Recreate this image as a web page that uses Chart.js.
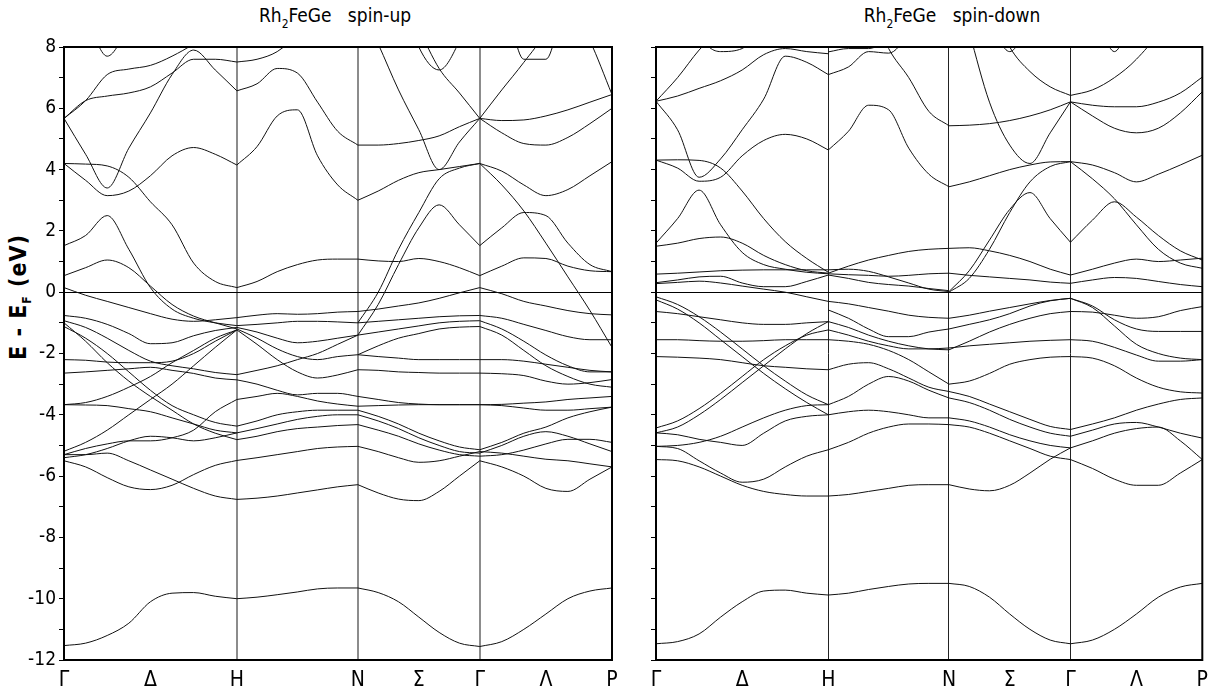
<!DOCTYPE html>
<html>
<head>
<meta charset="utf-8">
<script src="https://cdn.jsdelivr.net/npm/chart.js@4.4.0/dist/chart.umd.min.js"></script>
<style>
body { margin:0; width:1216px; height:697px; background:#fff; position:relative; overflow:hidden;
       font-family:'Liberation Sans Narrow','DejaVu Sans Condensed','Liberation Sans',Arial,sans-serif; }
canvas { position:absolute; top:0; }
#cUp { left:0; }
#cDn { left:620px; }
.ttl { position:absolute; top:4px; font-size:19px; white-space:pre; transform:translateX(-50%); color:#000; }
.ttl sub { font-size:12px; vertical-align:-6px; }
#ylab { position:absolute; left:19px; top:297px; transform:translate(-50%,-50%) rotate(-90deg);
        font-size:23px; font-weight:bold; letter-spacing:1px; white-space:pre; }
#ylab sub { font-size:12px; vertical-align:-5px; }
</style>
</head>
<body>
<div class="ttl" style="left:335px">Rh<sub>2</sub>FeGe   spin-up</div>
<div class="ttl" style="left:952px">Rh<sub>2</sub>FeGe   spin-down</div>
<div id="ylab">E - E<sub>F</sub> (eV)</div>
<canvas id="cUp" width="630" height="697"></canvas>
<canvas id="cDn" width="596" height="697"></canvas>
<script>
// k-path: Γ H N Γ P
const kPoints = [0, 1, 1.70, 2.405, 3.17];
const kTicks = [0, 0.5, 1, 1.70, 2.0525, 2.405, 2.7875, 3.17];
const kLabels = ['Γ', 'Δ', 'H', 'N', 'Σ', 'Γ', 'Λ', 'P'];
const symPoints = [1, 1.70, 2.405];

// ---- spin-up bands (eV), one row per line, evenly spaced along each segment
const upGH = [
    [5.67, 6.25, 7.1, 7.28, 7.4, 7.7, 8.1, 8.6, 9.2],
    [5.67, 6.25, 6.4, 6.5, 6.7, 7.15, 7.6, 7.6, 7.51],
    [5.67, 4.5, 3.4, 4.7, 5.85, 7.1, 7.9, 7.25, 6.57],
    [10, 9, 7.7, 8.7, 10, 10, 10, 10, 10],
    [4.2, 4.18, 4.12, 3.75, 2.95, 2.2, 0.95, 0.35, 0.15],
    [4.2, 3.65, 3.15, 3.3, 3.8, 4.45, 4.72, 4.5, 4.15],
    [1.52, 1.85, 2.5, 1.4, 0.15, -0.55, -0.85, -1.0, -1.09],
    [0.54, 0.8, 1.05, 0.8, 0.2, -0.4, -0.78, -1.0, -1.2],
    [0.15, -0.1, -0.3, -0.5, -0.7, -0.88, -0.95, -0.9, -0.83],
    [-0.76, -0.85, -1.05, -1.35, -1.68, -1.65, -1.42, -1.25, -1.15],
    [-0.93, -1.15, -1.5, -1.9, -2.25, -2.4, -2.5, -2.62, -2.69],
    [-1.12, -1.5, -2.0, -2.6, -3.2, -3.7, -4.0, -4.25, -4.37],
    [-1.0, -1.6, -2.3, -2.9, -3.4, -3.85, -4.3, -4.6, -4.81],
    [-2.2, -2.22, -2.28, -2.3, -2.3, -2.25, -2.0, -1.6, -1.23],
    [-2.64, -2.6, -2.55, -2.5, -2.45, -2.55, -2.65, -2.8, -2.86],
    [-3.67, -3.68, -3.7, -3.8, -3.9, -4.1, -4.3, -4.5, -4.59],
    [-3.67, -3.6, -3.4, -3.1, -2.75, -2.3, -1.9, -1.5, -1.23],
    [-5.19, -4.9, -4.5, -4.0, -3.5, -3.0, -2.4, -1.8, -1.23],
    [-5.3, -5.1, -4.95, -4.85, -4.85, -4.75, -4.5, -3.9, -3.5],
    [-5.4, -5.3, -5.1, -4.85, -4.7, -4.75, -4.85, -4.75, -4.59],
    [-5.5, -5.7, -6.05, -6.35, -6.44, -6.3, -5.95, -5.65, -5.49],
    [-5.3, -5.3, -5.25, -5.5, -5.8, -6.1, -6.4, -6.65, -6.76],
    [-11.53, -11.45, -11.2, -10.8, -10.1, -9.82, -9.8, -9.92, -10.0]
];
const upHN = [
    [7.51, 7.6, 7.85, 8.4, 9, 9.5, 10],
    [6.57, 6.8, 7.3, 7.15, 6.2, 5.25, 4.8],
    [4.15, 4.75, 5.75, 5.95, 4.45, 3.5, 3.0],
    [0.15, 0.35, 0.67, 0.9, 1.05, 1.08, 1.08],
    [-0.83, -0.75, -0.7, -0.72, -0.7, -0.65, -0.63],
    [-1.09, -1.05, -1.0, -0.95, -0.95, -0.97, -1.0],
    [-1.15, -1.3, -1.5, -1.65, -1.6, -1.5, -1.4],
    [-1.2, -1.5, -1.85, -2.1, -2.2, -2.1, -2.04],
    [-1.23, -1.7, -2.2, -2.6, -2.8, -2.7, -2.53],
    [-2.69, -2.55, -2.4, -2.2, -2.0, -1.7, -1.4],
    [-2.86, -3.0, -3.2, -3.35, -3.3, -3.3, -3.4],
    [-3.5, -3.4, -3.3, -3.4, -3.55, -3.65, -3.72],
    [-4.37, -4.2, -4.0, -3.9, -3.85, -3.85, -3.85],
    [-4.59, -4.45, -4.3, -4.15, -4.05, -4.0, -4.0],
    [-4.81, -4.7, -4.55, -4.45, -4.4, -4.35, -4.32],
    [-5.49, -5.4, -5.3, -5.2, -5.1, -5.05, -5.03],
    [-6.76, -6.72, -6.65, -6.55, -6.45, -6.35, -6.28],
    [-10.0, -9.95, -9.87, -9.78, -9.68, -9.65, -9.65]
];
const upNG = [
    [9.5, 8.1, 6.6, 5.3, 4.0, 4.9, 5.67],
    [4.8, 4.8, 4.85, 4.95, 5.1, 5.4, 5.67],
    [11, 11, 10, 8.6, 7.3, 6.5, 5.67],
    [11, 11, 10, 8.0, 7.25, 8.2, 10],
    [3.0, 3.3, 3.65, 3.9, 4.0, 4.1, 4.2],
    [-1.4, -0.4, 0.9, 2.1, 2.85, 2.2, 1.52],
    [-1.0, 0.0, 1.4, 2.6, 3.7, 4.05, 4.2],
    [1.08, 1.02, 1.0, 1.1, 1.0, 0.8, 0.54],
    [-0.63, -0.55, -0.45, -0.35, -0.2, -0.02, 0.15],
    [-1.0, -0.95, -0.9, -0.85, -0.8, -0.77, -0.76],
    [-1.4, -1.3, -1.2, -1.1, -1.0, -0.95, -0.93],
    [-2.04, -1.75, -1.5, -1.35, -1.2, -1.14, -1.12],
    [-2.04, -2.1, -2.15, -2.2, -2.2, -2.2, -2.2],
    [-2.53, -2.55, -2.6, -2.62, -2.64, -2.64, -2.64],
    [-3.4, -3.5, -3.6, -3.65, -3.67, -3.67, -3.67],
    [-3.72, -3.7, -3.68, -3.67, -3.67, -3.67, -3.67],
    [-3.85, -4.05, -4.3, -4.6, -4.85, -5.05, -5.14],
    [-4.0, -4.2, -4.45, -4.75, -5.0, -5.2, -5.25],
    [-4.32, -4.5, -4.7, -4.95, -5.15, -5.3, -5.35],
    [-5.03, -5.2, -5.4, -5.55, -5.5, -5.35, -5.2],
    [-6.28, -6.55, -6.75, -6.8, -6.5, -6.0, -5.5],
    [-9.65, -9.8, -10.1, -10.6, -11.1, -11.45, -11.56]
];
const upGP = [
    [5.67, 5.6, 5.62, 5.75, 5.95, 6.2, 6.45],
    [11, 11, 11, 10, 9.5, 8.2, 6.45],
    [5.67, 5.2, 4.85, 4.8, 5.05, 5.5, 6.0],
    [11, 10, 7.6, 7.6, 10, 11, 11],
    [5.67, 6.6, 7.5, 8.5, 10, 11, 11],
    [4.2, 3.95, 3.5, 3.15, 3.35, 3.8, 4.26],
    [1.52, 2.1, 2.6, 2.5, 1.6, 0.9, 0.67],
    [4.2, 3.5, 2.65, 1.6, 0.5, -0.6, -1.8],
    [0.54, 0.85, 1.12, 1.1, 0.85, 0.7, 0.67],
    [0.15, -0.05, -0.3, -0.45, -0.6, -0.7, -0.74],
    [-0.76, -0.85, -1.05, -1.25, -1.45, -1.55, -1.55],
    [-0.93, -1.2, -1.6, -2.05, -2.4, -2.6, -2.6],
    [-1.12, -1.4, -1.9, -2.4, -2.75, -3.0, -3.1],
    [-2.2, -2.2, -2.25, -2.35, -2.45, -2.55, -2.6],
    [-2.64, -2.66, -2.72, -2.9, -3.0, -2.95, -2.85],
    [-3.67, -3.66, -3.62, -3.58, -3.5, -3.45, -3.4],
    [-3.67, -3.7, -3.78, -3.85, -3.85, -3.8, -3.75],
    [-5.14, -4.9, -4.6, -4.4, -4.1, -3.9, -3.75],
    [-5.25, -5.0, -4.7, -4.55, -4.7, -4.95, -5.2],
    [-5.35, -5.3, -5.15, -4.95, -4.8, -4.8, -4.9],
    [-5.5, -5.7, -6.0, -6.4, -6.5, -6.1, -5.7],
    [-5.2, -5.25, -5.35, -5.45, -5.5, -5.6, -5.7],
    [-11.56, -11.4, -11.0, -10.5, -10.0, -9.75, -9.65]
];

// ---- spin-down bands
const dnGH = [
    [6.23, 6.4, 6.65, 6.9, 7.25, 7.75, 7.95, 7.85, 7.78],
    [6.23, 7.0, 7.9, 8.6, 9.5, 10, 10, 10, 10],
    [11, 11, 8.5, 7.85, 7.95, 9, 11, 11, 11],
    [6.23, 5.3, 3.75, 4.35, 5.3, 6.3, 7.7, 7.5, 7.1],
    [4.31, 4.32, 4.3, 4.05, 3.3, 2.4, 1.65, 1.1, 0.65],
    [4.31, 4.05, 3.62, 3.75, 4.45, 4.95, 5.15, 5.0, 4.64],
    [1.6, 2.4, 3.33, 2.2, 1.3, 0.9, 0.75, 0.65, 0.6],
    [1.5, 1.6, 1.75, 1.8, 1.6, 1.2, 0.9, 0.7, 0.62],
    [0.59, 0.62, 0.66, 0.7, 0.72, 0.73, 0.73, 0.73, 0.73],
    [0.31, 0.4, 0.5, 0.52, 0.3, 0.18, 0.18, 0.35, 0.56],
    [0.28, 0.32, 0.36, 0.3, 0.2, 0.1, 0.0, -0.15, -0.3],
    [-0.15, -0.4, -0.8, -1.3, -1.85, -2.4, -2.9, -3.35, -3.67],
    [-0.25, -0.55, -1.0, -1.55, -2.1, -2.65, -3.15, -3.6, -4.0],
    [-0.63, -0.7, -0.8, -0.9, -1.0, -1.05, -1.05, -1.0, -0.96],
    [-1.55, -1.55, -1.58, -1.6, -1.6, -1.58, -1.55, -1.55, -1.55],
    [-2.1, -2.12, -2.15, -2.2, -2.3, -2.4, -2.45, -2.5, -2.53],
    [-4.43, -4.2, -3.8, -3.3, -2.75, -2.2, -1.75, -1.4, -1.23],
    [-4.59, -4.4, -4.0, -3.5, -2.95, -2.4, -1.85, -1.35, -0.96],
    [-5.03, -5.0, -4.9, -4.7, -4.4, -4.1, -3.85, -3.7, -3.67],
    [-5.03, -5.1, -5.5, -5.9, -6.2, -6.1, -5.7, -5.35, -5.14],
    [-5.46, -5.5, -5.7, -6.0, -6.3, -6.5, -6.6, -6.65, -6.65],
    [-4.59, -4.65, -4.8, -4.9, -5.0, -4.6, -4.2, -4.05, -4.0],
    [-11.47, -11.4, -11.15, -10.6, -10.1, -9.75, -9.72, -9.82, -9.88]
];
const dnHN = [
    [7.84, 7.95, 7.95, 8.3, 9, 10, 10],
    [7.1, 7.35, 7.85, 7.8, 8.5, 10, 10],
    [10, 10, 9.5, 7.95, 7.0, 5.9, 5.43],
    [4.64, 5.25, 6.1, 5.95, 4.7, 3.85, 3.44],
    [0.62, 0.85, 1.05, 1.2, 1.33, 1.4, 1.43],
    [0.73, 0.75, 0.68, 0.5, 0.3, 0.1, 0.02],
    [0.6, 0.57, 0.55, 0.52, 0.55, 0.6, 0.62],
    [0.56, 0.45, 0.32, 0.25, 0.2, 0.12, 0.05],
    [-0.3, -0.38, -0.5, -0.62, -0.75, -0.82, -0.85],
    [-0.58, -0.85, -1.2, -1.45, -1.45, -1.3, -1.2],
    [-0.96, -1.15, -1.4, -1.6, -1.75, -1.85, -1.88],
    [-1.23, -1.4, -1.6, -1.75, -1.85, -1.85, -1.82],
    [-1.55, -1.6, -1.7, -1.9, -2.2, -2.6, -3.0],
    [-2.53, -2.35, -2.3, -2.5, -2.8, -3.1, -3.24],
    [-3.67, -3.4, -3.0, -2.75, -2.9, -3.2, -3.45],
    [-4.0, -3.9, -3.85, -3.9, -4.0, -4.1, -4.1],
    [-5.14, -4.9, -4.6, -4.4, -4.3, -4.3, -4.32],
    [-6.65, -6.6, -6.5, -6.4, -6.3, -6.28, -6.28],
    [-9.88, -9.82, -9.7, -9.6, -9.52, -9.5, -9.5]
];
const dnNG = [
    [5.43, 5.45, 5.5, 5.6, 5.75, 5.95, 6.21],
    [11, 8.5, 6.2, 4.8, 4.2, 5.2, 6.21],
    [11, 11, 9.5, 8.0, 7.2, 6.7, 6.42],
    [11, 11, 9, 7.85, 9, 11, 11],
    [3.44, 3.6, 3.8, 4.0, 4.15, 4.25, 4.26],
    [0.02, 0.7, 1.7, 2.7, 3.25, 2.4, 1.63],
    [0.0, 0.45, 1.4, 2.6, 3.6, 4.1, 4.26],
    [1.43, 1.45, 1.35, 1.2, 1.0, 0.75, 0.56],
    [0.62, 0.55, 0.5, 0.45, 0.4, 0.33, 0.29],
    [-0.85, -0.75, -0.62, -0.5, -0.38, -0.27, -0.2],
    [-1.2, -1.05, -0.9, -0.7, -0.45, -0.28, -0.2],
    [-1.88, -1.6, -1.3, -1.05, -0.85, -0.7, -0.63],
    [-1.82, -1.75, -1.7, -1.65, -1.6, -1.57, -1.55],
    [-3.0, -2.9, -2.65, -2.35, -2.2, -2.12, -2.1],
    [-3.24, -3.4, -3.65, -3.9, -4.15, -4.38, -4.48],
    [-3.45, -3.6, -3.85, -4.15, -4.4, -4.6, -4.7],
    [-4.1, -4.2, -4.4, -4.65, -4.85, -5.0, -5.08],
    [-4.32, -4.4, -4.6, -4.85, -5.1, -5.35, -5.46],
    [-6.28, -6.42, -6.48, -6.3, -5.9, -5.45, -5.08],
    [-9.5, -9.6, -9.95, -10.5, -11.0, -11.35, -11.47]
];
const dnGP = [
    [11, 9.5, 7.85, 9.5, 11, 11, 11],
    [6.42, 6.6, 7.0, 7.6, 8.5, 10, 11],
    [6.21, 6.1, 6.05, 6.05, 6.2, 6.5, 7.02],
    [6.21, 5.75, 5.35, 5.2, 5.35, 5.85, 6.54],
    [4.26, 4.15, 3.9, 3.6, 3.85, 4.15, 4.47],
    [1.63, 2.35, 2.95, 2.45, 1.85, 1.35, 1.05],
    [4.26, 3.7, 3.05, 2.2, 1.4, 0.95, 0.78],
    [0.56, 0.75, 0.95, 1.08, 1.0, 1.05, 1.11],
    [0.29, 0.4, 0.48, 0.45, 0.35, 0.25, 0.18],
    [-0.2, -0.45, -0.9, -1.2, -1.28, -1.28, -1.28],
    [-0.2, -0.5, -1.1, -1.7, -2.0, -2.15, -2.2],
    [-0.63, -0.65, -0.75, -0.85, -0.8, -0.6, -0.47],
    [-1.55, -1.6, -1.8, -2.05, -2.25, -2.25, -2.2],
    [-2.1, -2.15, -2.4, -2.8, -3.1, -3.25, -3.29],
    [-4.48, -4.3, -4.1, -3.85, -3.65, -3.5, -3.45],
    [-4.7, -4.5, -4.3, -4.25, -4.4, -4.6, -4.76],
    [-5.08, -4.85, -4.6, -4.45, -4.4, -4.85, -5.46],
    [-5.46, -5.75, -6.1, -6.3, -6.3, -5.9, -5.46],
    [-11.47, -11.35, -11.0, -10.5, -9.95, -9.62, -9.5]
];

const fontFam = "'Liberation Sans Narrow','DejaVu Sans Condensed','Liberation Sans',Arial,sans-serif";

function bandSets(segments) {
    let sets = [];
    segments.forEach(function (lines, s) {
        let k0 = kPoints[s], k1 = kPoints[s + 1];
        lines.forEach(function (vals) {
            sets.push({
                data: vals.map((e, i) => ({x: k0 + (k1 - k0) * i / (vals.length - 1), y: e})),
                borderColor: '#111',
                borderWidth: 1,
                pointRadius: 0,
                fill: false,
                cubicInterpolationMode: 'monotone'
            });
        });
    });
    return sets;
}

const frame = {
    id: 'frame',
    afterDraw(chart) {
        const a = chart.chartArea, ctx = chart.ctx;
        ctx.save();
        ctx.strokeStyle = '#000';
        ctx.lineWidth = 2;
        ctx.strokeRect(a.left, a.top, a.right - a.left, a.bottom - a.top);
        ctx.restore();
    }
};

function makePanel(id, segments, opt) {
    return new Chart(document.getElementById(id), {
        type: 'line',
        data: {datasets: bandSets(segments)},
        options: {
            responsive: false,
            animation: false,
            devicePixelRatio: 1,
            layout: {padding: {top: 47, right: opt.padRight, left: 0, bottom: 0}},
            plugins: {legend: {display: false}, tooltip: {enabled: false}},
            scales: {
                x: {
                    type: 'linear', min: 0, max: kPoints[4],
                    afterBuildTicks: sc => { sc.ticks = kTicks.map(v => ({value: v})); },
                    afterFit: sc => { sc.height = 37; },
                    ticks: {
                        callback: (v, i) => kLabels[i],
                        color: '#000', padding: 8, maxRotation: 0, autoSkip: false,
                        font: {family: fontFam, size: 21}
                    },
                    grid: {
                        color: ctx => symPoints.includes(ctx.tick.value) ? opt.vColor : 'rgba(0,0,0,0)',
                        lineWidth: opt.vWidth,
                        drawTicks: false
                    },
                    border: {display: false}
                },
                y: {
                    min: -12, max: 8,
                    afterBuildTicks: sc => {
                        let t = [];
                        for (let v = -12; v <= 8; v++) t.push({value: v});
                        sc.ticks = t;
                    },
                    afterFit: sc => { sc.width = opt.yWidth; },
                    ticks: {
                        autoSkip: false,
                        callback: v => (opt.labels && v % 2 === 0) ? String(v) : '',
                        color: '#000', padding: 3,
                        font: {family: fontFam, size: 19}
                    },
                    grid: {
                        color: ctx => ctx.tick.value === 0 ? '#000' : 'rgba(0,0,0,0)',
                        tickColor: '#000',
                        tickLength: 5,
                        lineWidth: 1
                    },
                    border: {display: false}
                }
            }
        },
        plugins: [frame]
    });
}

makePanel('cUp', [upGH, upHN, upNG, upGP],
    {padRight: 18, yWidth: 64, labels: true, vColor: '#8c8c8c', vWidth: 2});
makePanel('cDn', [dnGH, dnHN, dnNG, dnGP],
    {padRight: 13, yWidth: 36, labels: false, vColor: '#222', vWidth: 1});
</script>
</body>
</html>
